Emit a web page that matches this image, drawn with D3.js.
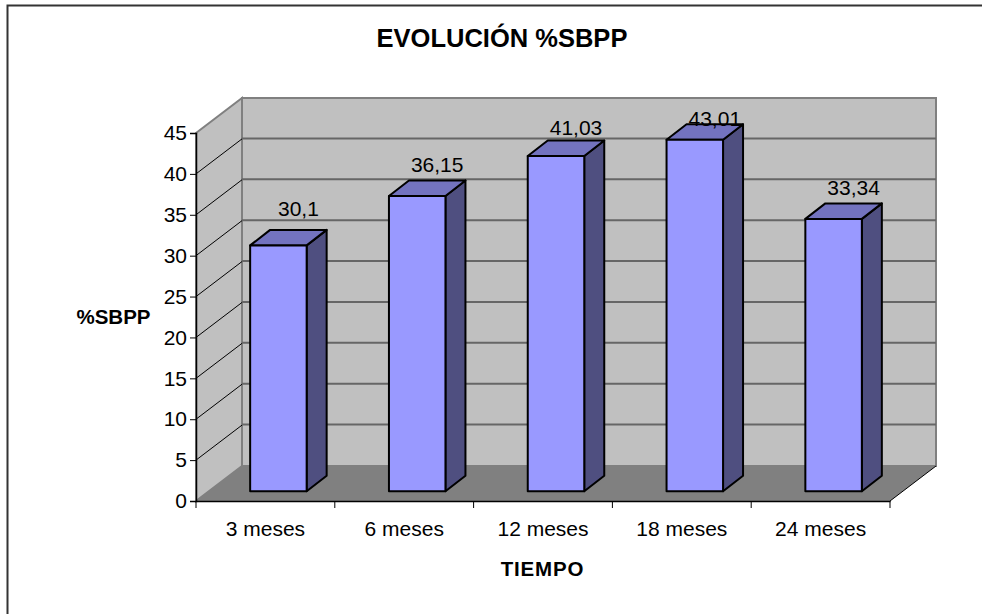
<!DOCTYPE html>
<html>
<head>
<meta charset="utf-8">
<script src="https://cdn.jsdelivr.net/npm/d3@7"></script>
<style>
  html, body { margin: 0; padding: 0; background: #fff; overflow: hidden; }
  text { font-family: "Liberation Sans", Arial, sans-serif; fill: #000; }
</style>
</head>
<body>
<script>
var categories = ["3 meses", "6 meses", "12 meses", "18 meses", "24 meses"];
var values = [30.1, 36.15, 41.03, 43.01, 33.34];
var valueLabels = ["30,1", "36,15", "41,03", "43,01", "33,34"];
var yTicks = [0, 5, 10, 15, 20, 25, 30, 35, 40, 45];

var width = 982, height = 614;
var wallDx = 46, wallDy = 35;   // depth of the fake 3d box
var barDx = 20, barDy = 15.5;   // depth of a bar
var labelGap = [14, 8, 6, -2, 8];  // the labels do not sit at a constant distance over the bars

var svg = d3.select("body").append("svg")
    .attr("width", width)
    .attr("height", height);

var x = d3.scaleBand().domain(categories).range([196, 890]);
var y = d3.scaleLinear().domain([0, 45]).range([501, 133]);

function poly(points) {
  return d3.line()(points) + "Z";
}

// outer frame, only top and left are in the picture
svg.append("path")
    .attr("d", "M7.5,614V5.5H982")
    .attr("fill", "none")
    .attr("stroke", "#333")
    .attr("stroke-width", 2);

var x0 = x.range()[0], x1 = x.range()[1];
var yBase = y(0), yTop = y(45);

// walls and floor
svg.append("path")
    .attr("d", poly([[x0 + wallDx, yTop - wallDy], [x1 + wallDx, yTop - wallDy], [x1 + wallDx, yBase - wallDy], [x0 + wallDx, yBase - wallDy]]))
    .attr("fill", "#c0c0c0")
    .attr("stroke", "#808080")
    .attr("stroke-width", 2);
svg.append("path")
    .attr("d", poly([[x0, yTop], [x0 + wallDx, yTop - wallDy], [x0 + wallDx, yBase - wallDy], [x0, yBase]]))
    .attr("fill", "#c0c0c0")
    .attr("stroke", "#808080")
    .attr("stroke-width", 2);
svg.append("path")
    .attr("d", poly([[x0, yBase], [x0 + wallDx, yBase - wallDy], [x1 + wallDx, yBase - wallDy], [x1, yBase]]))
    .attr("fill", "#808080");

// gridlines on back wall, diagonals on side wall
svg.append("g").selectAll("line")
    .data(yTicks.slice(1, -1))
    .enter().append("line")
    .attr("x1", x0 + wallDx)
    .attr("x2", x1 + wallDx)
    .attr("y1", function(d) { return y(d) - wallDy - 0.5; })
    .attr("y2", function(d) { return y(d) - wallDy - 0.5; })
    .attr("stroke", "#666")
    .attr("stroke-width", 2);
svg.append("g").selectAll("line")
    .data(yTicks.slice(1, -1))
    .enter().append("line")
    .attr("x1", x0)
    .attr("x2", x0 + wallDx)
    .attr("y1", function(d) { return y(d); })
    .attr("y2", function(d) { return y(d) - wallDy; })
    .attr("stroke", "#000")
    .attr("stroke-width", 1);

// right edge of the floor
svg.append("line")
    .attr("x1", x1).attr("y1", yBase)
    .attr("x2", x1 + wallDx).attr("y2", yBase - wallDy)
    .attr("stroke", "#000");

// axes
var axisLeft = d3.axisLeft(y).tickValues(yTicks).tickSize(6).tickPadding(3);
var axisBottom = d3.axisBottom(x).tickSize(0).tickPadding(20);

var gy = svg.append("g").attr("transform", "translate(" + x0 + ",0)").call(axisLeft);
gy.select(".domain").attr("stroke", "#000").attr("stroke-width", 1.5);
gy.selectAll("text").attr("font-size", 21).style("font-family", '"Liberation Sans"');

var gx = svg.append("g").attr("transform", "translate(0," + yBase + ")").call(axisBottom);
gx.select(".domain").attr("stroke", "#000").attr("stroke-width", 1.5);
gx.selectAll("text").attr("font-size", 21).style("font-family", '"Liberation Sans"');

// category separators sit between the bands
svg.append("g").selectAll("line")
    .data(categories.concat([null]))
    .enter().append("line")
    .attr("x1", function(d) { return d === null ? x1 : x(d); })
    .attr("x2", function(d) { return d === null ? x1 : x(d); })
    .attr("y1", yBase)
    .attr("y2", yBase + 7)
    .attr("stroke", "#000");

// bars
var bars = svg.append("g").selectAll("g")
    .data(values)
    .enter().append("g")
    .attr("stroke", "#000")
    .attr("stroke-width", 2)
    .attr("stroke-linejoin", "round");

var barW = 56.5;
var offX = (wallDx - barDx) / 2, offY = (wallDy - barDy) / 2;

function left(i) { return x(categories[i]) + x.bandwidth() / 2 - barW / 2 + offX; }
function bottom() { return yBase - offY; }
function top_(d) { return y(d) - offY + 0.3; }

bars.append("path")
    .attr("fill", "#4f4f80")
    .attr("d", function(d, i) {
      var r = left(i) + barW;
      return poly([[r, top_(d)], [r + barDx, top_(d) - barDy], [r + barDx, bottom() - barDy], [r, bottom()]]);
    });
bars.append("path")
    .attr("fill", "#7373bf")
    .attr("d", function(d, i) {
      var l = left(i);
      return poly([[l, top_(d)], [l + barDx, top_(d) - barDy], [l + barW + barDx, top_(d) - barDy], [l + barW, top_(d)]]);
    });
bars.append("path")
    .attr("fill", "#9999ff")
    .attr("d", function(d, i) {
      var l = left(i);
      return poly([[l, top_(d)], [l + barW, top_(d)], [l + barW, bottom()], [l, bottom()]]);
    });

// value labels
svg.append("g").selectAll("text")
    .data(values)
    .enter().append("text")
    .attr("x", function(d, i) { return left(i) + barW / 2 + 20; })
    .attr("y", function(d, i) { return top_(d) - barDy - labelGap[i]; })
    .attr("text-anchor", "middle")
    .attr("font-size", 21)
    .text(function(d, i) { return valueLabels[i]; });

// titles
svg.append("text")
    .attr("x", 502).attr("y", 47)
    .attr("text-anchor", "middle")
    .attr("font-size", 25.5)
    .attr("font-weight", "bold")
    .text("EVOLUCIÓN %SBPP");
svg.append("text")
    .attr("x", 113.5).attr("y", 324)
    .attr("text-anchor", "middle")
    .attr("font-size", 20.5)
    .attr("font-weight", "bold")
    .text("%SBPP");
svg.append("text")
    .attr("x", 542.5).attr("y", 576)
    .attr("text-anchor", "middle")
    .attr("font-size", 20.5)
    .attr("letter-spacing", 0.8)
    .attr("font-weight", "bold")
    .text("TIEMPO");
</script>
</body>
</html>
